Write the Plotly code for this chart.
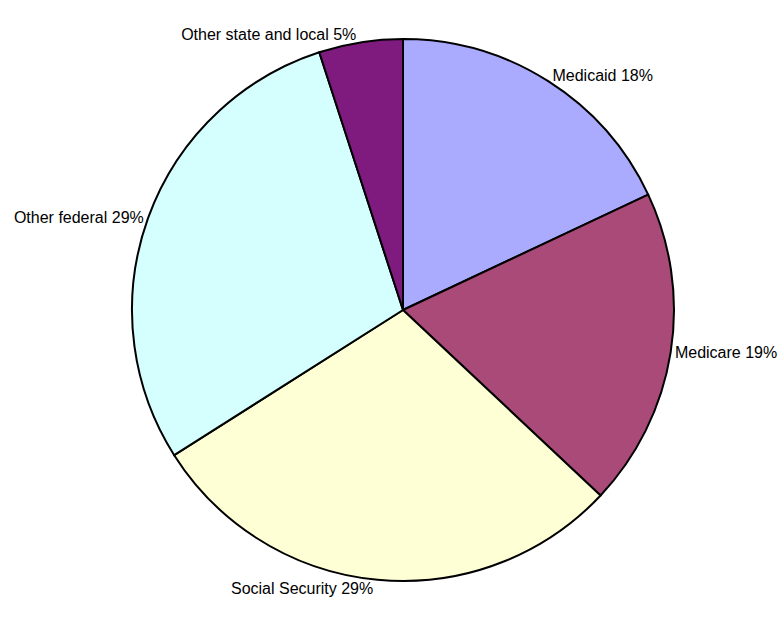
import plotly.graph_objects as go

labels = ["Medicaid", "Medicare", "Social Security", "Other federal", "Other state and local"]
values = [18, 19, 29, 29, 5]
colors = ["#AAAAFF", "#AA4A78", "#FFFFD5", "#D5FFFF", "#7F1A7F"]

fig = go.Figure(go.Pie(
    labels=labels,
    values=values,
    sort=False,
    direction="clockwise",
    rotation=0,
    marker=dict(colors=colors, line=dict(color="black", width=2)),
    texttemplate="%{label} %{percent:.0%}",
    textposition="outside",
    textfont=dict(family="Liberation Sans, Arial, sans-serif", size=16, color="black"),
    automargin=False,
    showlegend=False,
    hoverinfo="label+percent",
))

fig.update_layout(
    width=779, height=619,
    margin=dict(l=132, r=105, t=39, b=38),
    paper_bgcolor="white",
    plot_bgcolor="white",
)

fig.write_html("out.html", config={"displayModeBar": False},
               post_script="document.body.style.margin='0';")
